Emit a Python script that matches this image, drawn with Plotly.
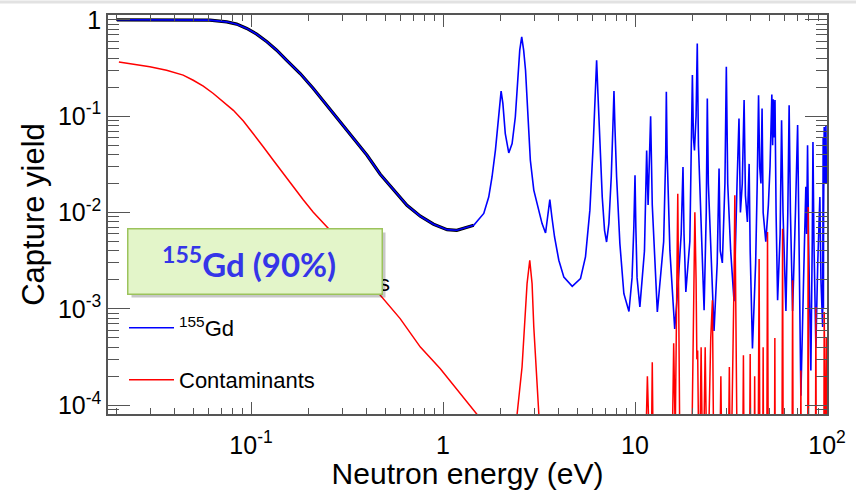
import plotly.graph_objects as go

# ---------------- data ----------------
gd_energy = [
    0.020, 0.0611, 0.0747, 0.0842, 0.0950, 0.107, 0.121, 0.136, 0.153, 0.1803,
    0.211, 0.248, 0.291, 0.342, 0.402, 0.471, 0.552, 0.649, 0.762, 0.893,
    1.05, 1.18, 1.445, 1.63, 1.73, 1.80, 1.875, 1.93, 1.97, 2.007,
    2.05, 2.11, 2.20, 2.29, 2.38, 2.45, 2.51, 2.57, 2.63, 2.69,
    2.76, 2.85, 2.97, 3.09, 3.28, 3.42, 3.51, 3.60, 3.69, 3.81,
    4.01, 4.26, 4.71, 5.20, 5.52, 5.82, 6.06, 6.21, 6.31, 6.41,
    6.56, 6.75, 6.94, 7.11, 7.31, 7.52, 7.67, 7.77, 7.86, 8.02,
    8.34, 8.75, 9.30, 9.65, 9.86, 10.0, 10.1, 10.25, 10.6, 11.2,
    11.5, 11.7, 12.06, 12.3, 13.07, 14.1, 14.45, 14.56, 14.7, 15.2,
    16.1, 16.7, 17.4, 17.78, 18.0, 18.4, 19.3, 19.7, 19.9, 20.15,
    20.4, 20.8, 21.1, 21.4, 22.0, 22.9, 23.5, 23.8, 24.1, 24.8,
    25.8, 26.8, 27.4, 27.8, 28.5, 29.4, 29.9, 30.4, 31.5, 32.8,
    33.5, 34.0, 34.8, 35.4, 36.2, 37.0, 37.6, 38.5, 39.3, 39.8,
    40.9, 42.5, 43.3, 44.0, 44.6, 45.3, 45.9, 46.5, 48.0, 49.5,
    50.5, 51.6, 52.1, 52.5, 53.0, 53.6, 54.3, 55.3, 57.0, 58.0,
    59.0, 61.1, 62.5, 63.5, 64.5, 66.2, 68.5, 70.3, 71.5, 73.1,
    75.5, 77.6, 78.3, 79.2, 80.2, 82.4, 83.8, 84.5, 85.5, 87.5,
    89.5, 91.8, 93.0, 94.9, 95.5, 95.8, 96.0, 96.7, 97.5, 98.2,
    98.7, 99.4, 100.0,
]
gd_yield = [
    1.0, 0.993, 0.953, 0.902, 0.814, 0.711, 0.591, 0.484, 0.382, 0.277,
    0.194, 0.130, 0.0873, 0.0587, 0.0393, 0.025, 0.0171, 0.0119, 0.00916, 0.00757,
    0.00665, 0.00655, 0.00738, 0.0098, 0.0145, 0.0234, 0.0444, 0.084, 0.147, 0.182,
    0.136, 0.066, 0.0416, 0.052, 0.098, 0.256, 0.484, 0.666, 0.484, 0.30,
    0.115, 0.0349, 0.0171, 0.0124, 0.00769, 0.00614, 0.009, 0.01365, 0.009, 0.00558,
    0.0032, 0.00214, 0.00172, 0.00206, 0.00346, 0.0106, 0.052, 0.172, 0.38, 0.172,
    0.052, 0.0145, 0.00655, 0.00495, 0.0077, 0.0234, 0.0774, 0.182, 0.0774, 0.0234,
    0.00476, 0.00144, 0.00094, 0.0021, 0.0071, 0.0244, 0.0071, 0.0021, 0.00105, 0.004,
    0.044, 0.012, 0.10, 0.012, 0.00093, 0.005, 0.04, 0.179, 0.04, 0.004,
    0.00062, 0.0016, 0.006, 0.0297, 0.006, 0.0015, 0.005, 0.05, 0.267, 0.06,
    0.044, 0.1, 0.569, 0.05, 0.0105, 0.00097, 0.01, 0.153, 0.02, 0.00476,
    0.00059, 0.003, 0.0286, 0.004, 0.003, 0.02, 0.325, 0.02, 0.004, 0.0012,
    0.008, 0.02, 0.0946, 0.01, 0.02, 0.147, 0.015, 0.008, 0.032, 0.004,
    0.00039, 0.003, 0.02, 0.165, 0.03, 0.02, 0.12, 0.01, 0.005, 0.012,
    0.03, 0.168, 0.05, 0.15, 0.06, 0.147, 0.01, 0.00123, 0.006, 0.0907,
    0.01, 0.00095, 0.01, 0.130, 0.01, 0.00095, 0.01, 0.081, 0.005, 0.000126,
    0.002, 0.0185, 0.006, 0.05, 0.005, 0.00023, 0.005, 0.054, 0.005, 0.0004,
    0.003, 0.0145, 0.002, 0.00065, 0.06, 0.001, 0.01, 0.0774, 0.02, 0.03,
    0.081, 0.02, 0.04,
]

cont_energy = [
    0.0205, 0.0243, 0.0297, 0.0363, 0.0393, 0.0443, 0.050, 0.0564, 0.0636, 0.0717,
    0.0809, 0.0912, 0.1028, 0.116, 0.1306, 0.147, 0.166, 0.187, 0.211, 0.258,
    0.342, 0.481, 0.598, 0.762, 0.968, 1.50, 1.8, 2.2, 2.43, 2.58,
    2.69, 2.74, 2.83, 2.91, 2.97, 3.09, 3.2, 4.0, 11.2, 11.6,
    11.9, 12.1, 12.3, 12.5, 15.5, 15.9, 16.2, 16.5, 16.7, 16.9,
    17.2, 19.6, 20.0, 20.2, 20.5, 20.8, 21.0, 21.2, 21.6, 22.1,
    22.6, 23.2, 23.8, 24.8, 25.3, 25.8, 27.5, 28.0, 28.5, 30.5,
    31.0, 31.5, 32.5, 32.8, 33.1, 33.4, 33.6, 34.2, 36.3, 36.7,
    37.1, 39.4, 39.8, 40.2, 41.7, 42.0, 42.3, 43.7, 44.3, 44.8,
    46.2, 46.5, 46.8, 48.5, 49.0, 49.5, 53.2, 53.5, 53.8, 58.2,
    58.7, 59.2, 65.7, 66.2, 66.7, 72.8, 73.1, 73.5, 79.3, 79.8,
    80.3, 87.0, 87.5, 88.0, 96.2, 96.7, 97.3, 98.8, 99.3, 100.0,
]
cont_yield = [
    0.366, 0.347, 0.325, 0.30, 0.288, 0.267, 0.236, 0.205, 0.172, 0.141,
    0.115, 0.0893, 0.066, 0.048, 0.0349, 0.0254, 0.0184, 0.0136, 0.0101, 0.00655,
    0.00295, 0.00133, 0.000794, 0.000402, 0.00024, 8.1e-5, 4e-5, 3e-5, 8e-5, 0.00025,
    0.00105, 0.00183, 0.0032, 0.00183, 0.00065, 0.000155, 5e-5, 1e-5, 1e-5, 0.0002,
    1e-5, 1e-5, 0.00028, 1e-5, 1e-5, 0.00044, 5e-5, 0.001, 0.0157, 0.001,
    1e-5, 1e-5, 0.0003, 0.002, 0.0101, 0.002, 0.0003, 0.00037, 1e-5, 0.0004,
    1e-5, 0.0004, 1e-5, 0.0005, 0.00123, 1e-5, 1e-5, 0.0002, 1e-5, 1e-5,
    0.00025, 1e-5, 0.0003, 0.002, 0.0151, 0.002, 0.0003, 1e-5, 1e-5, 0.00033,
    1e-5, 1e-5, 0.00034, 1e-5, 1e-5, 0.0002, 1e-5, 1e-5, 0.0033, 1e-5,
    1e-5, 0.0004, 1e-5, 1e-5, 0.0063, 1e-5, 1e-5, 0.0005, 1e-5, 1e-5,
    0.0068, 1e-5, 1e-5, 0.00198, 1e-5, 1e-5, 0.00023, 1e-5, 1e-5, 0.0114,
    1e-5, 1e-5, 0.00105, 1e-5, 1e-5, 0.00093, 1e-5, 1e-5, 0.0005, 1e-5,
]

# the fit (black) is visible under the blue curve in the smooth region
fit_energy_max = 1.6
fit_energy = [e for e in gd_energy if e <= fit_energy_max]
fit_yield = gd_yield[:len(fit_energy)]

x_tickvals = [0.1, 1, 10, 100]
x_ticktext = ["10<sup>-1</sup>", "1", "10", "10<sup>2</sup>"]
y_tickvals = [1e-4, 1e-3, 1e-2, 1e-1, 1]
y_ticktext = ["10<sup>-4</sup>", "10<sup>-3</sup>", "10<sup>-2</sup>", "10<sup>-1</sup>", "1"]

x_minor = [m * 10.0 ** d for d in (-2, -1, 0, 1) for m in range(2, 10)]
y_minor = [m * 10.0 ** d for d in (-5, -4, -3, -2, -1) for m in range(2, 10)]

FONT = "Liberation Sans, Arial, Helvetica, sans-serif"
AXC = "#555555"

fig = go.Figure()
fig.add_trace(go.Scatter(x=fit_energy, y=fit_yield, mode="lines",
                         name="<sup>155</sup>Gd + contaminants",
                         line=dict(color="black", width=3.2), legend="legend"))
fig.add_trace(go.Scatter(x=gd_energy, y=gd_yield, mode="lines", name="<sup>155</sup>Gd",
                         line=dict(color="#0000ff", width=1.6), legend="legend2"))
fig.add_trace(go.Scatter(x=cont_energy, y=cont_yield, mode="lines", name="Contaminants",
                         line=dict(color="#ff0000", width=1.5), legend="legend3"))

L, R, T, B = 108, 29, 15, 76
W, H = 856, 490
pw, ph = W - L - R, H - T - B


def px(xp):
    return (xp - L) / pw


def py(yp):
    return (H - B - yp) / ph


leg_common = dict(font=dict(family=FONT, size=22, color="black"), bgcolor="rgba(0,0,0,0)",
                  itemwidth=45, xanchor="left", yanchor="middle", borderwidth=0)

fig.update_layout(
    width=W, height=H,
    margin=dict(l=L, r=R, t=T, b=B, autoexpand=False),
    paper_bgcolor="white", plot_bgcolor="white",
    showlegend=True,
    legend=dict(x=px(124), y=py(283), **leg_common),
    legend2=dict(x=px(124), y=py(328), **leg_common),
    legend3=dict(x=px(124), y=py(380), **leg_common),
    xaxis=dict(
        type="log", range=[-1.745, 2.0], automargin=False,
        tickvals=x_tickvals, ticktext=x_ticktext,
        ticks="inside", ticklen=12, tickwidth=1, tickcolor=AXC,
        minor=dict(tickvals=x_minor, ticks="inside", ticklen=6, tickcolor=AXC, showgrid=False),
        showline=True, linecolor=AXC, linewidth=1.5, mirror="allticks",
        showgrid=False, zeroline=False, ticklabelstandoff=8,
        tickfont=dict(family=FONT, size=25, color="black"),
        title=dict(text="Neutron energy (eV)", font=dict(family=FONT, size=30, color="black"), standoff=0),
    ),
    yaxis=dict(
        type="log", range=[-4.09, 0.05], automargin=False,
        tickvals=y_tickvals, ticktext=y_ticktext,
        ticks="inside", ticklen=22, tickwidth=1, tickcolor=AXC,
        minor=dict(tickvals=y_minor, ticks="inside", ticklen=11, tickcolor=AXC, showgrid=False),
        showline=True, linecolor=AXC, linewidth=1.5, mirror="allticks",
        showgrid=False, zeroline=False,
        tickfont=dict(family=FONT, size=25, color="black"),
        title=dict(text="Capture yield", font=dict(family=FONT, size=31, color="black"), standoff=4),
    ),
)

# slide edge line at the very top
fig.add_shape(type="line", xref="paper", yref="paper", x0=-0.2, x1=1.2, y0=py(2), y1=py(2),
              line=dict(color="#e2e2e2", width=3))

# label box (shadow + box + text), drawn above the legend
box_cx, box_cy, box_w, box_h = 255, 261.5, 253, 64
fig.add_annotation(xref="paper", yref="paper", x=px(box_cx + 3), y=py(box_cy + 3),
                   xanchor="center", yanchor="middle", text=" ", showarrow=False,
                   width=box_w, height=box_h, borderpad=0, bgcolor="rgba(0,0,0,0.22)")
fig.add_annotation(xref="paper", yref="paper", x=px(box_cx), y=py(box_cy),
                   xanchor="center", yanchor="middle", text=" ", showarrow=False,
                   width=box_w, height=box_h, borderpad=0, borderwidth=1.5,
                   bordercolor="#9cc35c", bgcolor="#e3f5c9")
fig.add_annotation(xref="paper", yref="paper", x=px(249), y=py(262),
                   xanchor="center", yanchor="middle",
                   text="<b><sup>155</sup>Gd (90%)</b>", showarrow=False,
                   font=dict(family="Lato, Open Sans, sans-serif", size=33, color="#3535e8"))

fig.write_html("out.html", post_script="document.body.style.margin='0';",
               config={"displayModeBar": False})
